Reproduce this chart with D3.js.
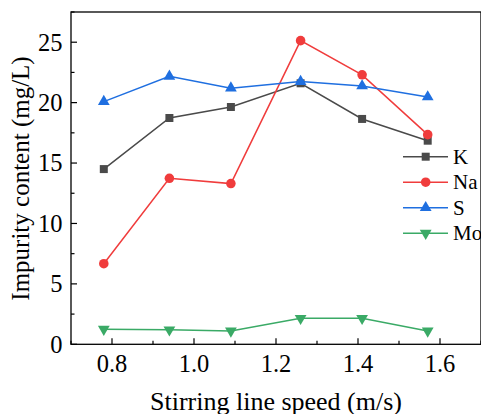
<!DOCTYPE html>
<html><head><meta charset="utf-8">
<script src="https://cdn.jsdelivr.net/npm/d3@7"></script>
<style>body{margin:0;background:#fff}svg{display:block}text{font-family:"Liberation Serif","Times New Roman","DejaVu Serif",serif;fill:#000}</style>
</head><body>
<svg id="c" width="481" height="414"></svg>
<script>
const speeds = [0.78, 0.94, 1.09, 1.26, 1.41, 1.57];
const K  = [14.5, 18.73, 19.64, 21.6, 18.65, 16.85];
const Na = [6.67, 13.74, 13.3, 25.13, 22.3, 17.35];
const S  = [20.08, 22.18, 21.2, 21.74, 21.38, 20.47];
const Mo = [1.25, 1.2, 1.1, 2.15, 2.15, 1.1];
const seriesNames = ["K", "Na", "S", "Mo"];
const xTicks = [0.8, 1.0, 1.2, 1.4, 1.6];
const yTicks = [0, 5, 10, 15, 20, 25];

const series = [
  {name: "K", values: K, color: "#4a4a4a", sym: d3.symbolSquare, size: 64, rot: 0},
  {name: "Na", values: Na, color: "#f03c3c", sym: d3.symbolCircle, size: 72, rot: 0},
  {name: "S", values: S, color: "#1f6fe0", sym: d3.symbolTriangle, size: 60, rot: 0},
  {name: "Mo", values: Mo, color: "#3aaa66", sym: d3.symbolTriangle, size: 60, rot: 180}
];

const svg = d3.select("#c");
const L = 71, R = 481, T = 12, B = 344.3;
const x = d3.scaleLinear().domain([0.7, 1.7]).range([L, R]);
const y = d3.scaleLinear().domain([0, 27.5]).range([B, T]);

// frame
svg.append("rect").attr("x", L).attr("y", T).attr("width", R - L).attr("height", B - T)
  .attr("fill", "none").attr("stroke", "#000").attr("stroke-width", 1.3);

// x axis ticks (inward)
const xMinor = d3.range(0.7, 1.71, 0.1).map(v => +v.toFixed(2));
xMinor.forEach(v => {
  const major = xTicks.some(t => Math.abs(t - v) < 1e-6);
  svg.append("line").attr("x1", x(v)).attr("x2", x(v)).attr("y1", B).attr("y2", B - (major ? 6 : 3.5))
    .attr("stroke", "#000").attr("stroke-width", 1.2);
});
xTicks.forEach(v => {
  svg.append("text").attr("x", x(v)).attr("y", 372).attr("text-anchor", "middle")
    .attr("font-size", 24.5).text(v.toFixed(1));
});
// y axis ticks
d3.range(0, 27.6, 2.5).forEach(v => {
  const major = yTicks.includes(v);
  svg.append("line").attr("x1", L).attr("x2", L + (major ? 6 : 3.5)).attr("y1", y(v)).attr("y2", y(v))
    .attr("stroke", "#000").attr("stroke-width", 1.2);
});
yTicks.forEach(v => {
  svg.append("text").attr("x", 62.5).attr("y", y(v)).attr("dy", "0.34em").attr("text-anchor", "end")
    .attr("font-size", 24.5).text(v);
});

// axis titles
svg.append("text").attr("x", 276).attr("y", 410).attr("text-anchor", "middle")
  .attr("font-size", 26).text("Stirring line speed (m/s)");
svg.append("text").attr("transform", `translate(29,178.5) rotate(-90)`).attr("text-anchor", "middle")
  .attr("font-size", 25).text("Impurity content (mg/L)");

// lines & markers
const line = d3.line().x(d => x(d[0])).y(d => y(d[1]));
series.forEach(s => {
  const pts = speeds.map((v, i) => [v, s.values[i]]);
  svg.append("path").attr("d", line(pts)).attr("fill", "none").attr("stroke", s.color).attr("stroke-width", 1.5);
  const sym = d3.symbol().type(s.sym).size(s.size);
  svg.selectAll(null).data(pts).enter().append("path")
    .attr("d", sym)
    .attr("transform", d => `translate(${x(d[0])},${y(d[1])}) rotate(${s.rot})`)
    .attr("fill", s.color);
});

// legend
series.forEach((s, i) => {
  const ly = 156.7 + i * 25.5;
  const g = svg.append("g");
  g.append("line").attr("x1", 403).attr("x2", 448).attr("y1", ly).attr("y2", ly)
    .attr("stroke", s.color).attr("stroke-width", 1.5);
  g.append("path").attr("d", d3.symbol().type(s.sym).size(s.size)())
    .attr("transform", `translate(425.7,${ly}) rotate(${s.rot})`).attr("fill", s.color);
  g.append("text").attr("x", 453).attr("y", ly).attr("dy", "0.34em")
    .attr("font-size", 21).text(s.name);
});
</script>
</body></html>
